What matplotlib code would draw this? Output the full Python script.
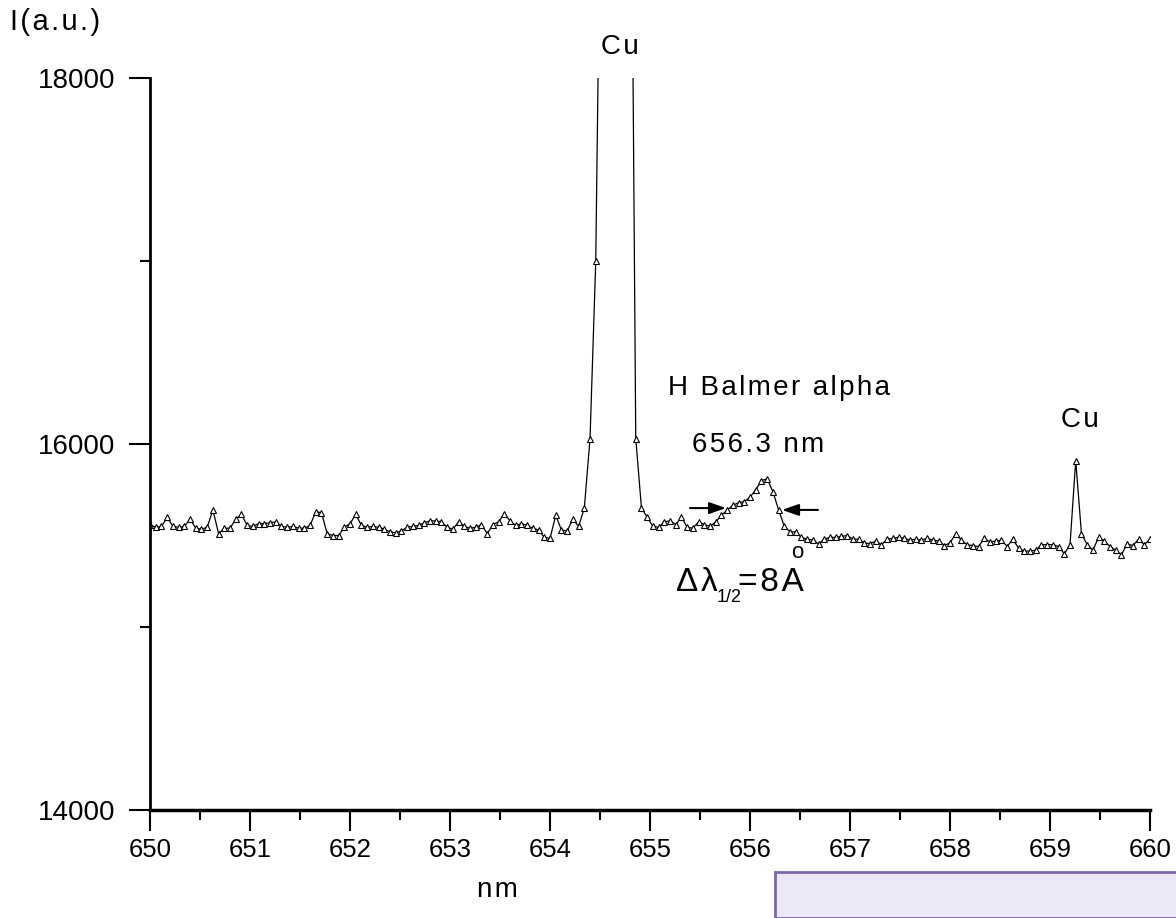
import numpy as np
import matplotlib
matplotlib.use("Agg")
from matplotlib import pyplot as plt
from matplotlib.patches import Rectangle

# spectrum (wavelength grid ~0.057 nm)
wavelength = np.linspace(650, 660, 176)
intensity = [
    15560, 15545, 15550, 15600, 15550, 15545, 15550, 15590, 15540, 15535,
    15545, 15640, 15510, 15540, 15540, 15590, 15615, 15555, 15550, 15565,
    15565, 15570, 15575, 15550, 15545, 15550, 15540, 15540, 15555, 15630,
    15625, 15510, 15500, 15500, 15545, 15565, 15615, 15555, 15545, 15550,
    15545, 15535, 15520, 15515, 15525, 15545, 15550, 15555, 15570, 15580,
    15580, 15575, 15545, 15535, 15575, 15550, 15540, 15545, 15560, 15510,
    15560, 15575, 15620, 15580, 15555, 15565, 15555, 15540, 15530, 15490,
    15485, 15610, 15530, 15525, 15590, 15550, 15650, 16030, 17000, 19500,
    22000, 24000, 23500, 22000, 20200, 16030, 15650, 15600, 15550, 15545,
    15575, 15580, 15560, 15600, 15545, 15540, 15575, 15560, 15550, 15575,
    15610, 15640, 15665, 15680, 15685, 15710, 15750, 15800, 15810, 15740,
    15640, 15550, 15520, 15520, 15490, 15480, 15475, 15455, 15480, 15490,
    15490, 15495, 15500, 15480, 15480, 15460, 15455, 15470, 15450, 15480,
    15485, 15490, 15485, 15475, 15480, 15475, 15485, 15475, 15470, 15445,
    15460, 15510, 15475, 15450, 15445, 15440, 15485, 15465, 15470, 15475,
    15440, 15480, 15430, 15415, 15415, 15420, 15450, 15450, 15450, 15440,
    15400, 15450, 15910, 15510, 15450, 15420, 15490, 15470, 15440, 15420,
    15395, 15455, 15445, 15480, 15450, 15480,
]
xticks = list(range(650, 661))
yticks = [14000, 16000, 18000]

plt.rcParams['font.family'] = ['Liberation Sans', 'DejaVu Sans']


def spaced(s):
    # the original labels are drawn with loose letter spacing
    return "\u200a".join(s)


fig = plt.figure(figsize=(11.76, 9.18), dpi=100)
ax = fig.add_axes([0.1276, 0.1176, 0.8503, 0.7974])

ax.plot(wavelength, intensity, color="black", lw=0.9,
        marker="^", markersize=4.5, markerfacecolor="white",
        markeredgecolor="black", markeredgewidth=0.8)

ax.set_xlim(650, 660)
ax.set_ylim(14000, 18000)
ax.set_xticks(xticks)
ax.set_xticks(np.arange(650.5, 660, 1), minor=True)
ax.set_yticks(yticks)
ax.set_yticks([15000, 17000], minor=True)
ax.tick_params(axis="both", which="major", direction="out", length=15,
               width=1.5)
ax.tick_params(axis="both", which="minor", direction="out", length=7,
               width=1.5)
ax.tick_params(axis="x", pad=5, labelsize=18.5)
ax.tick_params(axis="y", pad=10, labelsize=20)
for s in ["top", "right"]:
    ax.spines[s].set_visible(False)
ax.spines["left"].set_linewidth(2)
ax.spines["bottom"].set_linewidth(2.5)

# annotations
fs = 20
ax.text(654.7, 18170, spaced("Cu"), fontsize=fs, ha="center", va="center",
        clip_on=False)
ax.text(659.3, 16131, spaced("Cu"), fontsize=fs, ha="center", va="center")
ax.text(655.18, 16306, spaced("H Balmer alpha"), fontsize=fs, ha="left",
        va="center")
ax.text(655.42, 15995, spaced("656.3 nm"), fontsize=fs, ha="left", va="center")
ax.text(655.26, 15246, spaced("Δλ"), fontsize=24, ha="left", va="center")
ax.text(655.67, 15160, "1/2", fontsize=13, ha="left", va="center")
ax.text(655.88, 15246, spaced("=8A"), fontsize=24, ha="left", va="center")
ax.text(656.47, 15405, "o", fontsize=16, ha="center", va="center")

arrow = dict(arrowstyle="-|>,head_length=1.0,head_width=0.35", color="black",
             lw=1.5, shrinkA=0, shrinkB=0)
ax.annotate("", xy=(655.76, 15650), xytext=(655.40, 15650), arrowprops=arrow)
ax.annotate("", xy=(656.32, 15640), xytext=(656.68, 15640), arrowprops=arrow)

fig.text(10 / 1176, 1 - 22 / 918, spaced("I(a.u.)"), fontsize=21, ha="left",
         va="center")
fig.text(497 / 1176, 1 - 890 / 918, spaced("nm"), fontsize=fs, ha="center",
         va="center")

# purple box at the bottom right
fig.patches.append(Rectangle((775 / 1176, 0), 0.4, 46 / 918,
                             transform=fig.transFigure, facecolor="#ECE8F7",
                             edgecolor="#7E66A8", lw=2))

fig.savefig("out.png", dpi=100)
